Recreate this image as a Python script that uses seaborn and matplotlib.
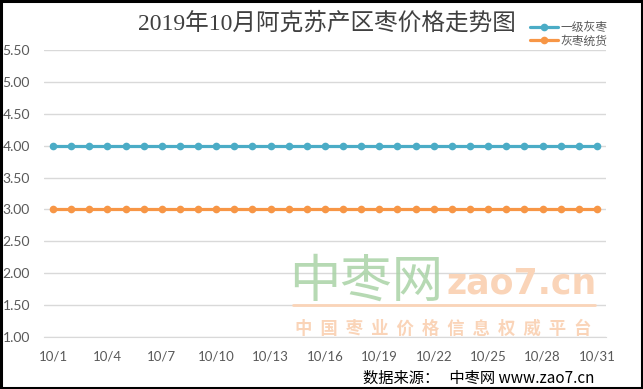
import numpy as np
import pandas as pd
import seaborn as sns
import matplotlib.pyplot as plt
from matplotlib.lines import Line2D

sns.set_style("white")
plt.rcParams['font.family'] = ['Noto Sans CJK SC', 'DejaVu Sans']

# ============================================
# DADOS
# ============================================
dates = ["10/1", "10/2", "10/3", "10/4", "10/5", "10/6", "10/7", "10/8", "10/9", "10/10",
         "10/11", "10/12", "10/13", "10/14", "10/15", "10/16", "10/17", "10/18", "10/19", "10/20",
         "10/21", "10/22", "10/23", "10/24", "10/25", "10/26", "10/27", "10/28", "10/29", "10/30",
         "10/31"]
grade1 = [4.00, 4.00, 4.00, 4.00, 4.00, 4.00, 4.00, 4.00, 4.00, 4.00,
          4.00, 4.00, 4.00, 4.00, 4.00, 4.00, 4.00, 4.00, 4.00, 4.00,
          4.00, 4.00, 4.00, 4.00, 4.00, 4.00, 4.00, 4.00, 4.00, 4.00,
          4.00]
mixed = [3.00, 3.00, 3.00, 3.00, 3.00, 3.00, 3.00, 3.00, 3.00, 3.00,
         3.00, 3.00, 3.00, 3.00, 3.00, 3.00, 3.00, 3.00, 3.00, 3.00,
         3.00, 3.00, 3.00, 3.00, 3.00, 3.00, 3.00, 3.00, 3.00, 3.00,
         3.00]
series_names = ["一级灰枣", "灰枣统货"]
tick_labels = ["10/1", "10/4", "10/7", "10/10", "10/13", "10/16", "10/19", "10/22", "10/25", "10/28", "10/31"]
y_ticks = [1.00, 1.50, 2.00, 2.50, 3.00, 3.50, 4.00, 4.50, 5.00, 5.50]

day = [int(d.split("/")[1]) for d in dates]
df = pd.DataFrame({"day": day * 2,
                   "price": grade1 + mixed,
                   "serie": [series_names[0]] * len(day) + [series_names[1]] * len(day)})

# ============================================
# FIGURA
# ============================================
fig = plt.figure(figsize=(6.43, 3.89), dpi=100)
ax = fig.add_axes([0.0684, 0.1337, 0.874, 0.738])

sns.lineplot(data=df, x="day", y="price", hue="serie", hue_order=series_names,
             palette=["#4BACC6", "#F79646"], marker="o", markersize=5.5,
             markeredgewidth=0, linewidth=2.3, ax=ax, legend=False, zorder=3)

ax.set_xlim(0.5, 31.5)
ax.set_ylim(1.0, 5.5)
ax.set_yticks(y_ticks)
ax.set_yticklabels([f"{v:.2f}" for v in y_ticks], family="Lato", fontsize=10, color="#595959")
ax.set_xticks([int(t.split("/")[1]) for t in tick_labels])
ax.set_xticklabels(tick_labels, family="Lato", fontsize=9.5, color="#595959")
ax.set_xticks(np.arange(0.5, 31, 3), minor=True)
ax.tick_params(axis="x", which="major", length=0, pad=10)
ax.tick_params(axis="x", which="minor", length=5, color="#D9D9D9", width=1)
ax.tick_params(axis="y", length=0, pad=10)
ax.grid(axis="y", color="#D9D9D9", linewidth=1)
ax.set_xlabel("")
ax.set_ylabel("")
for s in ["top", "right", "left"]:
    ax.spines[s].set_visible(False)
ax.spines["bottom"].set_color("#D9D9D9")

# legenda
handles = [Line2D([], [], color=c, lw=2.3, marker="o", markersize=5.5, markeredgewidth=0)
           for c in ["#4BACC6", "#F79646"]]
fig.legend(handles, series_names, loc="upper left", bbox_to_anchor=(0.815, 0.96),
           frameon=False, fontsize=8.5, labelcolor="#595959", handlelength=2.4,
           handletextpad=0.15, labelspacing=0.0, borderpad=0)

# titulo
fig.text(0.508, 0.94, "2019年10月阿克苏产区枣价格走势图", ha="center", va="center",
         fontsize=17, color="#404040", family=["Liberation Serif", "Noto Sans CJK SC"])

# marca d'agua
fig.text(0.449, 0.275, "中枣网", fontsize=37, color="#A9D3A6", alpha=0.85, va="center",
         ha="left", zorder=5)
fig.text(0.695, 0.27, "zao7.cn", fontsize=25, color="#FAD4B8", fontweight="bold",
         family="DejaVu Sans", va="center", ha="left", zorder=5)
fig.add_artist(Line2D([0.455, 0.925], [0.215, 0.215], color="#FAD4B8", lw=2, zorder=5))
fig.text(0.69, 0.155, "中  国  枣  业  价  格  信  息  权  威  平  台", fontsize=12.5,
         color="#FAD4B8", fontweight="bold", va="center", ha="center", zorder=5)

# fonte
fig.text(0.925, 0.028, "数据来源：   中枣网 www.zao7.cn", fontsize=11, color="black",
         ha="right", va="center")

# moldura
fig.add_artist(plt.Rectangle((0.0015, 0.0025), 0.997, 0.995, transform=fig.transFigure,
                             fill=False, edgecolor="black", linewidth=2.2))

plt.savefig("out.png", dpi=100)
plt.close()
